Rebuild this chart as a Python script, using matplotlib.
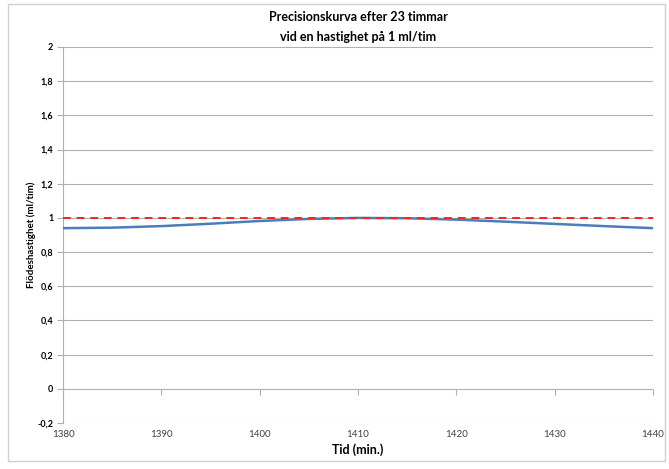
import matplotlib
matplotlib.use("Agg")
import matplotlib.pyplot as plt
from matplotlib.patches import Rectangle

plt.rcParams['font.family'] = ['Lato', 'DejaVu Sans']

tid = [1380, 1385, 1390, 1395, 1400, 1405, 1410, 1415, 1420, 1425, 1430, 1435, 1440]
flode = [0.94, 0.943, 0.952, 0.966, 0.982, 0.994, 1.0, 0.998, 0.99, 0.978, 0.965, 0.952, 0.94]
ref_x = [1380, 1440]
ref_y = [1.0, 1.0]
xticks = [1380, 1390, 1400, 1410, 1420, 1430, 1440]
yticks = [-0.2, 0, 0.2, 0.4, 0.6, 0.8, 1, 1.2, 1.4, 1.6, 1.8, 2]
ylabels = ['-0,2', '0', '0,2', '0,4', '0,6', '0,8', '1', '1,2', '1,4', '1,6', '1,8', '2']

fig = plt.figure(figsize=(6.69, 4.69), dpi=100)
fig.patches.append(Rectangle((8/669, 8/469), 657/669, 457/469, transform=fig.transFigure,
                             fill=False, edgecolor='#d0d0d0', linewidth=1.0))
ax = fig.add_axes([63/669, 46/469, 590/669, 376/469])

gray = '#b0b0b0'
for y in yticks:
    ax.axhline(y, color=gray, linewidth=0.8, zorder=1)

ax.plot(tid, flode, color='#4a7ebb', linewidth=1.8, zorder=3)
ax.plot(ref_x, ref_y, color='#ff2020', linewidth=1.4, linestyle=(0, (4, 3)), zorder=4)

ax.set_xlim(1380, 1440)
ax.set_ylim(-0.2, 2)
ax.set_yticks(yticks)
ax.set_yticklabels(ylabels, fontsize=6.5, fontweight='bold')
ax.set_xticks(xticks)
ax.set_xticklabels([str(x) for x in xticks], fontsize=7, color='#404040')
ax.tick_params(axis='x', length=0, pad=5)
ax.tick_params(axis='y', length=4, color=gray, width=0.8, pad=3)

for s in ['top', 'right', 'bottom']:
    ax.spines[s].set_visible(False)
ax.spines['left'].set_color(gray)
ax.spines['left'].set_linewidth(0.8)

sec = ax.secondary_xaxis(0.2 / 2.2)
sec.set_xticks(xticks)
sec.set_xticklabels([])
sec.tick_params(axis='x', length=4, color=gray, width=0.8)
sec.spines['bottom'].set_visible(False)

ax.set_xlabel('Tid (min.)', fontsize=9, fontweight='bold', labelpad=3)
ax.set_ylabel('Flödeshastighet (ml/tim)', fontsize=7, fontweight='bold', labelpad=1)
ax.set_title('Precisionskurva efter 23 timmar\nvid en hastighet på 1 ml/tim', fontsize=9,
             fontweight='bold', pad=4, linespacing=1.8)

fig.savefig('out.png', dpi=100)
